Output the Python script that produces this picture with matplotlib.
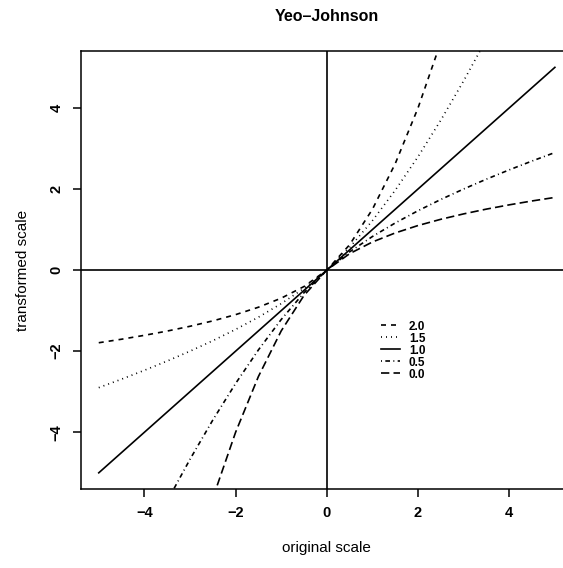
import matplotlib
matplotlib.use("Agg")
import matplotlib.pyplot as plt

plt.rcParams['font.family'] = ['Liberation Sans', 'DejaVu Sans']

# valores (transformacion Yeo-Johnson)
x = [-5.0, -4.5, -4.0, -3.5, -3.0, -2.5, -2.0, -1.5, -1.0, -0.5, 0.0,
     0.5, 1.0, 1.5, 2.0, 2.5, 3.0, 3.5, 4.0, 4.5, 5.0]

y_20 = [-1.792, -1.705, -1.609, -1.504, -1.386, -1.253, -1.099, -0.916, -0.693, -0.405, 0.0,
        0.625, 1.5, 2.625, 4.0, 5.625, 7.5, 9.625, 12.0, 14.625, 17.5]
y_15 = [-2.899, -2.690, -2.472, -2.243, -2.0, -1.742, -1.464, -1.162, -0.828, -0.450, 0.0,
        0.558, 1.219, 1.969, 2.797, 3.699, 4.667, 5.697, 6.787, 7.932, 9.131]
y_10 = [-5.0, -4.5, -4.0, -3.5, -3.0, -2.5, -2.0, -1.5, -1.0, -0.5, 0.0,
        0.5, 1.0, 1.5, 2.0, 2.5, 3.0, 3.5, 4.0, 4.5, 5.0]
y_05 = [-9.131, -7.932, -6.787, -5.697, -4.667, -3.699, -2.797, -1.969, -1.219, -0.558, 0.0,
        0.450, 0.828, 1.162, 1.464, 1.742, 2.0, 2.243, 2.472, 2.690, 2.899]
y_00 = [-17.5, -14.625, -12.0, -9.625, -7.5, -5.625, -4.0, -2.625, -1.5, -0.625, 0.0,
        0.405, 0.693, 0.916, 1.099, 1.253, 1.386, 1.504, 1.609, 1.705, 1.792]

etiquetas = ['2.0', '1.5', '1.0', '0.5', '0.0']
xticks = [-4, -2, 0, 2, 4]
yticks = [-4, -2, 0, 2, 4]

lw = 1.2
estilos = [(0, (3, 3)),            # dashed
           (0, (0.6, 2.4)),        # dotted
           '-',                    # solid
           (0, (0.6, 2, 2.8, 2)),  # dotdash
           (0, (5, 2.5))]          # longdash

fig = plt.figure(figsize=(5.63, 5.68), dpi=100)
# el recuadro sale por la derecha (figura recortada)
ax = fig.add_axes([0.143, 0.139, 0.875, 0.771])

ax.axvline(0, color='black', lw=1.2)
ax.axhline(0, color='black', lw=1.2)

for y, est, lab in zip([y_20, y_15, y_10, y_05, y_00], estilos, etiquetas):
    ax.plot(x, y, color='black', lw=lw, linestyle=est, label=lab)

ax.set_xlim(-5.4, 5.4)
ax.set_ylim(-5.4, 5.4)
ax.set_xticks(xticks)
ax.set_yticks(yticks)
ax.set_xticklabels([str(t).replace('-', '\u2212') for t in xticks], fontweight='bold', fontsize=10.5)
ax.set_yticklabels([str(t).replace('-', '\u2212') for t in yticks], fontweight='bold', fontsize=10.5,
                   rotation=90, va='center')
ax.tick_params(direction='out', length=6, width=1.1, pad=6)
for s in ax.spines.values():
    s.set_linewidth(1.1)

ax.set_title('Yeo\u2013Johnson', fontweight='bold', fontsize=11.5, pad=22)
ax.set_xlabel('original scale', fontsize=11, labelpad=15)
ax.set_ylabel('transformed scale', fontsize=11, labelpad=14)

leg = ax.legend(loc='upper left', bbox_to_anchor=(1.05, -1.1), bbox_transform=ax.transData,
                frameon=False, borderpad=0, handlelength=1.6, handletextpad=0.8,
                labelspacing=0.0, prop={'size': 8.5, 'weight': 'bold'})

fig.savefig('out.png', dpi=100)
